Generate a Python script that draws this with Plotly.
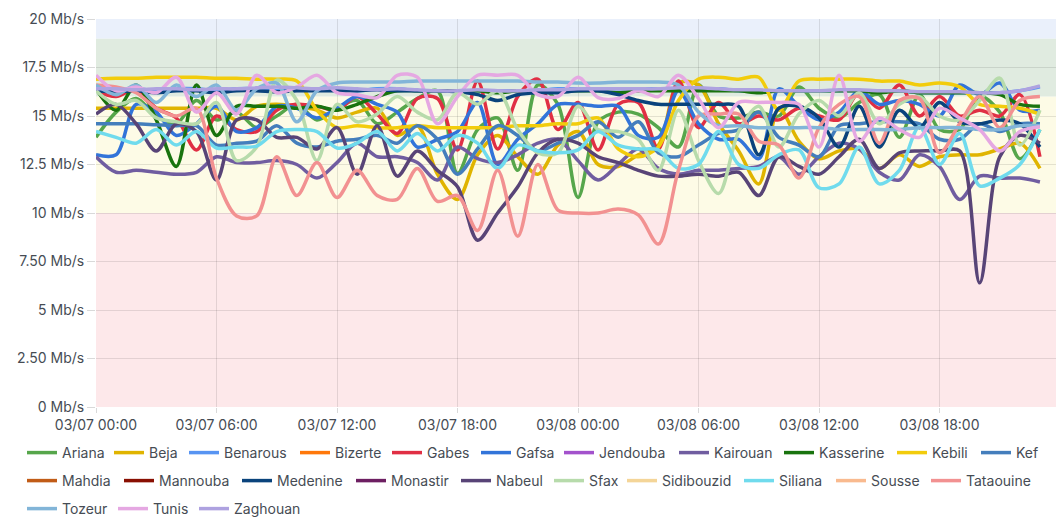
import plotly.graph_objects as go
import pandas as pd

# ---- data (hourly samples, Mb/s) ----
start = "2023-03-07 00:00"
hours = pd.date_range(start, periods=48, freq="h")

regions = ["Ariana", "Beja", "Benarous", "Bizerte", "Gabes", "Gafsa", "Jendouba", "Kairouan",
           "Kasserine", "Kebili", "Kef", "Mahdia", "Mannouba", "Medenine", "Monastir", "Nabeul",
           "Sfax", "Sidibouzid", "Siliana", "Sousse", "Tataouine", "Tozeur", "Tunis", "Zaghouan"]

colors = ["#56A64B", "#E0B400", "#5794F2", "#FF780A", "#E02F44", "#3274D9", "#A352CC", "#705DA0",
          "#19730E", "#F2CC0C", "#447EBC", "#C15C17", "#890F02", "#0A437C", "#6D1F62", "#584477",
          "#B7DBAB", "#F4D598", "#70DBED", "#F9BA8F", "#F29191", "#82B5D8", "#E5A8E2", "#AEA2E0"]

ariana = [13.9, 15.2, 15.9, 15.0, 14.6, 15.8, 14.8, 15.2, 14.4, 15.0, 15.6, 14.8,
          15.4, 15.8, 14.6, 15.2, 15.9, 16.3, 12.05, 14.3, 14.9, 12.2, 16.6, 15.6,
          10.8, 14.7, 15.2, 15.1, 14.4, 13.4, 16.6, 15.0, 14.9, 15.2, 15.0, 16.5,
          15.4, 14.9, 15.7, 16.1, 13.9, 16.1, 14.3, 14.3, 16.0, 15.2, 12.8, 14.3]
beja = [15.4, 15.4, 15.4, 15.4, 15.4, 15.4, 15.4, 14.8, 15.5, 15.6, 15.5, 15.3,
        14.9, 15.2, 15.4, 14.0, 14.5, 12.0, 10.7, 13.0, 14.0, 12.9, 12.0, 13.5,
        14.2, 12.5, 12.4, 13.0, 13.5, 16.7, 16.6, 14.6, 13.2, 11.5, 15.4, 13.7,
        12.8, 13.2, 13.3, 12.3, 13.0, 12.4, 12.9, 13.0, 13.0, 13.3, 13.6, 12.3]
benarous = [16.4, 16.3, 16.4, 16.3, 16.4, 16.4, 16.3, 16.4, 16.4, 16.3, 16.4, 16.4,
            16.4, 16.3, 16.4, 16.4, 16.3, 16.3, 16.3, 16.3, 16.3, 16.3, 16.3, 16.4,
            16.4, 16.4, 16.4, 16.4, 16.4, 16.4, 16.4, 16.4, 16.3, 16.3, 16.3, 16.3,
            16.3, 16.3, 16.3, 16.3, 16.3, 16.2, 16.2, 16.2, 16.2, 16.2, 16.3, 16.5]
gabes = [16.3, 16.0, 16.4, 15.4, 14.9, 13.25, 15.0, 14.3, 14.2, 15.3, 15.6, 15.5,
         15.3, 16.0, 15.1, 14.1, 15.9, 15.9, 13.25, 16.8, 13.3, 16.0, 16.9, 14.3,
         15.7, 13.25, 15.6, 15.7, 13.3, 16.8, 14.4, 15.7, 14.6, 15.0, 14.8, 15.4,
         15.0, 14.8, 16.2, 15.4, 16.6, 15.0, 16.0, 15.0, 15.3, 15.0, 16.1, 12.9]
gafsa = [13.0, 13.0, 15.6, 15.2, 14.0, 14.6, 15.5, 14.2, 14.4, 15.5, 15.4, 14.9,
         15.4, 16.0, 15.6, 15.2, 13.4, 13.8, 14.2, 15.7, 12.5, 13.8, 14.6, 15.6,
         15.6, 15.5, 15.5, 14.0, 13.9, 16.3, 14.6, 13.8, 13.8, 12.8, 16.4, 15.5,
         14.8, 15.2, 16.3, 15.6, 15.8, 15.6, 15.0, 16.6, 16.1, 16.7, 15.3, 15.3]
kairouan = [12.9, 12.1, 12.2, 12.1, 12.0, 12.1, 12.9, 12.6, 12.6, 12.7, 12.5, 11.8,
            12.6, 13.6, 12.9, 12.9, 12.6, 11.7, 13.4, 12.8, 12.6, 13.0, 13.6, 13.8,
            12.7, 11.7, 12.5, 13.3, 12.3, 12.0, 12.2, 12.2, 12.3, 12.4, 12.9, 12.0,
            12.9, 13.6, 13.3, 12.1, 11.7, 13.0, 12.4, 10.7, 11.9, 11.8, 11.8, 11.6]
kasserine = [16.4, 15.3, 16.6, 14.8, 12.4, 16.6, 14.0, 15.5, 15.5, 15.5, 15.4, 15.5,
             15.3, 15.6, 16.0, 16.3, 16.3, 16.3, 16.3, 16.3, 16.2, 16.3, 16.3, 16.3,
             16.3, 16.3, 16.2, 16.3, 16.3, 16.3, 16.3, 16.3, 16.3, 16.2, 16.3, 16.3,
             16.3, 16.3, 16.3, 16.2, 16.3, 16.2, 16.2, 16.2, 16.2, 16.1, 15.6, 15.5]
kebili = [16.9, 16.95, 16.95, 17.0, 17.0, 17.0, 16.95, 16.95, 16.9, 16.9, 16.8, 15.3,
          14.4, 14.5, 14.4, 14.4, 14.5, 14.4, 14.4, 14.4, 14.4, 14.5, 14.5, 14.6,
          14.6, 14.9, 13.3, 12.9, 13.4, 15.8, 16.9, 17.0, 16.9, 17.0, 15.3, 16.8,
          16.9, 16.9, 16.9, 16.8, 16.8, 16.6, 16.7, 16.5, 15.6, 15.5, 15.4, 15.1]
kef = [14.6, 14.6, 14.6, 14.55, 14.5, 14.5, 13.5, 13.6, 13.7, 14.5, 13.6, 13.4,
       13.7, 13.8, 14.0, 13.6, 14.5, 13.8, 12.0, 13.3, 14.5, 14.0, 13.2, 13.6,
       14.0, 14.7, 13.9, 14.7, 13.1, 12.9, 13.5, 14.1, 14.3, 15.2, 13.9, 13.5,
       12.9, 14.5, 14.6, 14.7, 14.7, 14.6, 13.8, 13.8, 14.6, 14.2, 14.6, 14.6]
medenine = [16.3, 16.25, 16.3, 16.2, 16.3, 16.3, 16.2, 16.3, 16.3, 16.25, 16.3, 16.3,
            16.3, 16.3, 16.35, 16.3, 16.3, 16.3, 16.25, 16.1, 15.8, 16.1, 16.2, 16.2,
            16.3, 16.3, 16.1, 15.8, 15.6, 15.6, 15.6, 15.6, 15.5, 13.0, 15.4, 15.5,
            14.9, 13.4, 15.5, 13.4, 15.3, 14.4, 15.7, 14.7, 14.6, 14.8, 14.6, 13.4]
nabeul = [15.1, 15.6, 14.6, 13.2, 14.6, 14.2, 11.7, 14.8, 14.8, 13.9, 13.9, 13.3,
          14.4, 12.0, 14.5, 11.9, 13.2, 12.2, 11.35, 8.6, 10.0, 11.35, 13.1, 13.8,
          13.6, 12.9, 12.6, 12.2, 11.9, 11.9, 12.0, 11.9, 12.1, 10.9, 12.9, 12.4,
          12.0, 12.9, 13.8, 12.3, 13.1, 13.2, 13.2, 13.2, 6.4, 12.9, 14.0, 13.6]
sfax = [16.3, 15.6, 15.8, 14.9, 14.7, 14.6, 15.7, 12.7, 13.4, 16.85, 15.8, 12.7,
        15.6, 14.7, 15.1, 16.0, 15.2, 14.8, 16.2, 15.6, 16.3, 14.3, 13.1, 13.1,
        15.5, 14.3, 14.2, 13.8, 12.2, 15.3, 12.7, 11.0, 14.2, 15.5, 13.4, 15.1,
        15.8, 15.0, 16.2, 14.6, 15.6, 16.0, 15.0, 14.8, 15.8, 16.95, 13.5, 15.3]
siliana = [14.2, 13.9, 13.6, 14.3, 13.5, 14.2, 13.35, 13.4, 13.45, 14.2, 14.3, 14.2,
           13.35, 13.6, 14.2, 13.2, 14.1, 13.2, 14.0, 13.6, 12.3, 13.5, 13.2, 13.1,
           13.25, 14.2, 13.5, 13.3, 13.25, 12.3, 12.5, 14.2, 12.5, 12.3, 13.0, 13.25,
           11.3, 11.5, 13.4, 11.5, 12.2, 14.45, 12.5, 14.1, 11.4, 11.8, 12.5, 14.3]
tataouine = [16.6, 16.5, 16.2, 15.4, 15.0, 15.4, 11.8, 9.85, 9.85, 12.9, 10.9, 12.6,
             10.8, 12.2, 10.9, 10.7, 12.3, 10.6, 10.9, 9.1, 12.2, 8.8, 12.5, 10.15,
             10.0, 10.0, 10.2, 9.9, 8.4, 12.2, 15.0, 15.1, 15.1, 13.7, 13.5, 11.8,
             14.4, 15.6, 16.0, 13.6, 15.8, 15.9, 13.1, 14.6, 16.0, 14.4, 15.8, 16.0]
tozeur = [16.6, 16.1, 16.6, 15.7, 16.6, 16.0, 16.6, 15.3, 16.4, 16.7, 14.7, 16.3,
          16.7, 16.75, 16.75, 16.75, 16.8, 16.8, 16.8, 16.8, 16.8, 16.8, 16.75, 16.75,
          16.7, 16.7, 16.75, 16.75, 16.75, 16.6, 15.2, 14.5, 14.5, 14.4, 14.4, 14.4,
          14.4, 14.3, 14.3, 14.3, 14.3, 14.4, 14.4, 14.4, 14.3, 14.3, 14.5, 14.5]
tunis = [17.1, 16.3, 16.5, 16.2, 17.0, 15.2, 16.2, 15.1, 17.1, 16.2, 16.5, 17.1,
         16.2, 16.1, 15.95, 17.1, 17.0, 14.6, 16.0, 17.1, 17.1, 17.1, 16.1, 16.0,
         17.0, 15.95, 15.9, 16.3, 16.0, 17.1, 15.9, 14.4, 15.7, 15.7, 15.7, 15.6,
         13.4, 17.1, 13.7, 14.9, 14.3, 13.9, 15.4, 14.9, 14.3, 13.2, 14.2, 14.45]
zaghouan = [16.4, 16.4, 16.35, 16.4, 16.4, 16.35, 16.4, 16.4, 16.45, 16.5, 16.45, 16.4,
            16.45, 16.4, 16.35, 16.4, 16.35, 16.3, 16.3, 16.35, 16.3, 16.3, 16.35, 16.35,
            16.4, 16.4, 16.4, 16.4, 16.4, 16.45, 16.45, 16.4, 16.35, 16.35, 16.3, 16.3,
            16.3, 16.35, 16.35, 16.3, 16.3, 16.25, 16.25, 16.25, 16.2, 16.2, 16.3, 16.55]
# series listed in the legend but with no sample drawn in the picture
no_data = [None] * 48

series = {
    "Ariana": ariana, "Beja": beja, "Benarous": benarous, "Bizerte": no_data,
    "Gabes": gabes, "Gafsa": gafsa, "Jendouba": no_data, "Kairouan": kairouan,
    "Kasserine": kasserine, "Kebili": kebili, "Kef": kef, "Mahdia": no_data,
    "Mannouba": no_data, "Medenine": medenine, "Monastir": no_data, "Nabeul": nabeul,
    "Sfax": sfax, "Sidibouzid": no_data, "Siliana": siliana, "Sousse": no_data,
    "Tataouine": tataouine, "Tozeur": tozeur, "Tunis": tunis, "Zaghouan": zaghouan,
}

# threshold bands (Mb/s)
band_edges = [0, 10, 16, 19, 20]
band_colors = ["#FDE8EA", "#FDFBE6", "#E0EBE0", "#EAF0FB"]

y_ticks = [0, 2.5, 5, 7.5, 10, 12.5, 15, 17.5, 20]
y_tick_text = ["0 Mb/s", "2.50 Mb/s", "5 Mb/s", "7.50 Mb/s", "10 Mb/s",
               "12.5 Mb/s", "15 Mb/s", "17.5 Mb/s", "20 Mb/s"]

# legend layout: row of each entry and left pixel of its colour swatch
legend_rows = [regions[:11], regions[11:21], regions[21:]]
legend_row_y = [453, 481, 509]
legend_swatch_x = [
    [33, 120, 195, 306, 398, 487, 570, 685, 790, 903, 987],
    [33, 130, 248, 362, 467, 560, 633, 750, 842, 937],
    [33, 124, 205],
]

W, H = 1056, 518
font_family = "Inter, Roboto, sans-serif"
text_col = "#464C54"

legend_of = {}
legend_layouts = {}
k = 0
for row, ypx, xs in zip(legend_rows, legend_row_y, legend_swatch_x):
    for name, xpx in zip(row, xs):
        k += 1
        key = "legend" if k == 1 else f"legend{k}"
        legend_of[name] = key
        legend_layouts[key] = dict(
            orientation="h", xref="container", yref="container",
            x=(xpx - 11) / W, y=1 - ypx / H, xanchor="left", yanchor="middle",
            bgcolor="rgba(0,0,0,0)", borderwidth=0,
            font=dict(family=font_family, size=14, color=text_col),
        )

fig = go.Figure()
for name, col in zip(regions, colors):
    fig.add_trace(go.Scatter(
        x=list(hours), y=series[name], name=name, mode="lines",
        line=dict(color=col, width=3.5, shape="spline", smoothing=0.9),
        legend=legend_of[name],
    ))

for lo, hi, c in zip(band_edges[:-1], band_edges[1:], band_colors):
    fig.add_shape(type="rect", xref="paper", x0=0, x1=1, yref="y", y0=lo, y1=hi,
                  fillcolor=c, line_width=0, layer="below")

fig.update_layout(
    width=W, height=H,
    margin=dict(l=96, r=0, t=19, b=111, autoexpand=False),
    paper_bgcolor="white", plot_bgcolor="white",
    font=dict(family=font_family, size=14, color=text_col),
    showlegend=True,
    **legend_layouts,
)
fig.update_xaxes(
    range=[pd.Timestamp(start), pd.Timestamp(start) + pd.Timedelta(minutes=47 * 60 + 48)],
    dtick=6 * 3600 * 1000, tick0=start, tickformat="%m/%d %H:%M",
    showgrid=True, gridcolor="rgba(0,0,0,0.10)", gridwidth=1,
    ticks="outside", ticklen=5, tickcolor="rgba(0,0,0,0.15)",
    showline=False, zeroline=False,
    tickfont=dict(family=font_family, size=14, color=text_col),
)
fig.update_yaxes(
    range=[0, 20], tickvals=y_ticks, ticktext=y_tick_text,
    showgrid=True, gridcolor="rgba(0,0,0,0.10)", gridwidth=1,
    ticks="outside", ticklen=8, tickcolor="rgba(0,0,0,0.15)",
    showline=False, zeroline=False,
    tickfont=dict(family=font_family, size=14, color=text_col),
)

fig.write_html("out.html", config={"displayModeBar": False},
               post_script="document.body.style.margin='0';")
